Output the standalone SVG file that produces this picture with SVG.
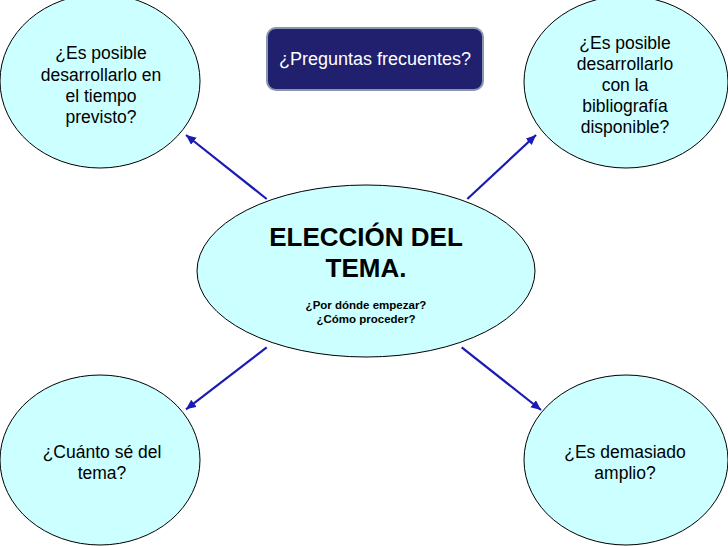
<svg xmlns="http://www.w3.org/2000/svg" width="728" height="546" viewBox="0 0 728 546">
<defs>
<style>
.node ellipse{fill:#ccffff;stroke:#000;stroke-width:1}
.t{font-family:"Liberation Sans",Arial,sans-serif;font-size:17.5px;fill:#000;text-anchor:middle}
.big{font-family:"Liberation Sans",Arial,sans-serif;font-size:26px;font-weight:bold;fill:#000;text-anchor:middle}
.small{font-family:"Liberation Sans",Arial,sans-serif;font-size:11.5px;font-weight:bold;fill:#000;text-anchor:middle}
.btn{font-family:"Liberation Sans",Arial,sans-serif;font-size:18px;fill:#fff;text-anchor:middle}
.conn line{stroke:#1a1ab4;stroke-width:2.2;marker-end:url(#ah)}
</style>
<marker id="ah" markerUnits="userSpaceOnUse" markerWidth="12" markerHeight="10" refX="10" refY="4.5" orient="auto">
<path d="M0,0 L10,4.5 L0,9 z" fill="#1a1ab4"/>
</marker>
</defs>
<rect width="728" height="546" fill="#fff"/>
<g id="connectors" class="conn">
<line x1="266.7" y1="199" x2="186" y2="135"/>
<line x1="467.3" y1="199" x2="536" y2="135"/>
<line x1="266.7" y1="347.3" x2="186" y2="409.3"/>
<line x1="461.7" y1="347.3" x2="541" y2="410"/>
</g>
<g id="center" class="node">
<ellipse cx="366" cy="271" rx="169" ry="86"/>
<text class="big" x="366" y="246">ELECCIÓN DEL</text>
<text class="big" x="366" y="277">TEMA.</text>
<text class="small" x="366" y="309">¿Por dónde empezar?</text>
<text class="small" x="366" y="323">¿Cómo proceder?</text>
</g>
<g id="faq">
<rect x="267" y="28" width="216" height="62" rx="9" fill="#20206e" stroke="#8797ad" stroke-width="2"/>
<text class="btn" x="375" y="65">¿Preguntas frecuentes?</text>
</g>
<g id="top-left" class="node">
<ellipse cx="100" cy="81" rx="100" ry="87"/>
<text class="t" x="101" y="59">¿Es posible</text>
<text class="t" x="101" y="81">desarrollarlo en</text>
<text class="t" x="101" y="102">el tiempo</text>
<text class="t" x="101" y="123">previsto?</text>
</g>
<g id="top-right" class="node">
<ellipse cx="626" cy="82" rx="102" ry="86"/>
<text class="t" x="625" y="49">¿Es posible</text>
<text class="t" x="625" y="70">desarrollarlo</text>
<text class="t" x="625" y="91">con la</text>
<text class="t" x="625" y="112">bibliografía</text>
<text class="t" x="625" y="133">disponible?</text>
</g>
<g id="bottom-left" class="node">
<ellipse cx="100" cy="460" rx="100" ry="85"/>
<text class="t" x="102" y="458">¿Cuánto sé del</text>
<text class="t" x="102" y="479">tema?</text>
</g>
<g id="bottom-right" class="node">
<ellipse cx="626" cy="460" rx="102" ry="85"/>
<text class="t" x="625" y="458">¿Es demasiado</text>
<text class="t" x="625" y="479">amplio?</text>
</g>
</svg>
